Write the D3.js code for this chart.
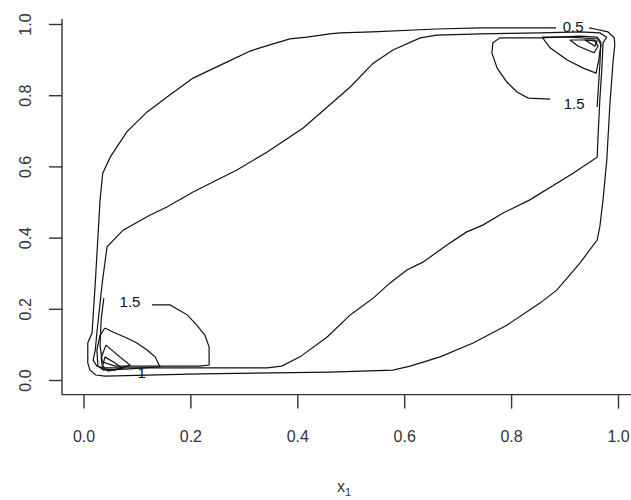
<!DOCTYPE html>
<html lang="en">
<head>
<meta charset="UTF-8">
<title>contour</title>
<script src="https://cdn.jsdelivr.net/npm/d3@7"></script>
<style>
  body { margin: 0; background: #fff; }
  text { font-family: "Liberation Sans", Arial, sans-serif; fill: #333; }
</style>
</head>
<body>
<svg width="631" height="500"></svg>
<script>
// ticks
var xTicks = [0, 0.2, 0.4, 0.6, 0.8, 1.0];
var yTicks = [0, 0.2, 0.4, 0.6, 0.8, 1.0];

// contour lines, [x1, x2]
// level 0.5 (outer loop, broken where its label sits)
var c05 = [[0.884,0.989],[0.742,0.989],[0.661,0.986],[0.540,0.978],[0.480,0.975],[0.461,0.972],
  [0.418,0.963],[0.386,0.958],[0.330,0.933],[0.312,0.924],[0.268,0.893],[0.205,0.848],[0.162,0.801],
  [0.119,0.753],[0.081,0.697],[0.050,0.626],[0.036,0.581],[0.031,0.506],[0.022,0.272],[0.016,0.132],
  [0.008,0.104],[0.008,0.048],[0.012,0.028],[0.023,0.014],[0.040,0.011],[0.218,0.017],[0.461,0.022],
  [0.579,0.028],[0.611,0.039],[0.667,0.065],[0.729,0.104],[0.792,0.154],[0.854,0.216],[0.886,0.253],
  [0.929,0.329],[0.961,0.393],[0.966,0.430],[0.972,0.506],[0.979,0.618],[0.985,0.778],[0.991,0.899],
  [0.994,0.941],[0.993,0.961],[0.981,0.978],[0.957,0.986],[0.946,0.989]];

// level 1 (S-shaped loop)
var c10 = [[0.979,0.963],[0.966,0.975],[0.929,0.978],[0.854,0.975],[0.742,0.972],[0.661,0.969],
  [0.630,0.961],[0.579,0.927],[0.542,0.890],[0.499,0.823],[0.411,0.708],[0.343,0.640],[0.287,0.590],
  [0.205,0.528],[0.156,0.486],[0.124,0.463],[0.074,0.421],[0.044,0.374],[0.035,0.272],[0.025,0.132],
  [0.022,0.084],[0.018,0.056],[0.025,0.039],[0.036,0.034],[0.343,0.034],[0.371,0.039],[0.405,0.065],
  [0.456,0.121],[0.499,0.183],[0.504,0.188],[0.542,0.230],[0.573,0.272],[0.605,0.309],[0.635,0.331],
  [0.680,0.379],[0.717,0.416],[0.747,0.435],[0.785,0.469],[0.835,0.506],[0.916,0.581],[0.961,0.626],
  [0.963,0.694],[0.966,0.787],[0.970,0.879],[0.972,0.947],[0.979,0.963]];

// level 1.5, lower left corner and upper right corner
var c15a = [[0.128,0.211],[0.162,0.211],[0.194,0.183],[0.212,0.154],[0.227,0.126],[0.235,0.093],
  [0.235,0.042],[0.218,0.039],[0.143,0.039],[0.059,0.039],[0.035,0.051],[0.031,0.098],[0.033,0.169],
  [0.038,0.230]];
var c15b = [[0.873,0.789],[0.832,0.792],[0.811,0.809],[0.792,0.837],[0.774,0.876],[0.764,0.919],
  [0.766,0.947],[0.779,0.961],[0.854,0.961],[0.929,0.966],[0.961,0.963],[0.968,0.949],[0.966,0.885],
  [0.963,0.815],[0.961,0.767]];

// level 2
var c20a = [[0.040,0.146],[0.055,0.135],[0.081,0.118],[0.100,0.104],[0.119,0.084],[0.134,0.065],
  [0.143,0.037],[0.087,0.031],[0.038,0.028],[0.027,0.039],[0.025,0.084],[0.031,0.126],[0.040,0.146]];
var c20b = [[0.858,0.963],[0.873,0.933],[0.905,0.899],[0.935,0.876],[0.959,0.862],[0.964,0.899],
  [0.968,0.941],[0.963,0.958],[0.910,0.963],[0.858,0.963]];

// level 2.5
var c25a = [[0.042,0.098],[0.053,0.084],[0.068,0.065],[0.087,0.042],[0.059,0.028],[0.036,0.031],
  [0.033,0.062],[0.042,0.098]];
var c25b = [[0.910,0.955],[0.925,0.938],[0.955,0.919],[0.963,0.938],[0.955,0.955],[0.910,0.955]];

// level 3
var c30a = [[0.040,0.065],[0.059,0.048],[0.072,0.034],[0.046,0.025],[0.036,0.039],[0.040,0.065]];
var c30b = [[0.938,0.955],[0.957,0.938],[0.961,0.952],[0.938,0.955]];

var lines = [c05, c10, c15a, c15b, c20a, c20b, c25a, c25b, c30a, c30b];

// contour labels
var labels = [
  {text: "0.5", x: 0.916, y: 0.992},
  {text: "1.5", x: 0.087, y: 0.219},
  {text: "1.5", x: 0.918, y: 0.775},
  {text: "1",   x: 0.109, y: 0.020}
];

var svg = d3.select('svg');

var x = d3.scaleLinear().domain([0, 1]).range([83.5, 618]);
var y = d3.scaleLinear().domain([0, 1]).range([380, 24]);

var left = 62, bottom = 394.6;

// L shaped frame
svg.append('path')
  .attr('d', 'M' + left + ',19 L' + left + ',' + bottom + ' L631,' + bottom)
  .attr('fill', 'none')
  .attr('stroke', '#333')
  .attr('stroke-width', 1.4);

// x axis
var xAxis = d3.axisBottom(x).tickValues(xTicks).tickSize(14).tickFormat(d3.format('.1f'));
var gx = svg.append('g').attr('transform', 'translate(0,' + bottom + ')').call(xAxis);
gx.select('.domain').remove();
gx.selectAll('line').attr('stroke', '#333').attr('stroke-width', 1.4);
gx.selectAll('text')
  .attr('y', 42).attr('dy', '0.35em')
  .style('font-size', '16px')
  .attr('fill', '#333')
  .attr('font-family', null);

// y axis
var yAxis = d3.axisLeft(y).tickValues(yTicks).tickSize(13).tickFormat(d3.format('.1f'));
var gy = svg.append('g').attr('transform', 'translate(' + left + ',0)').call(yAxis);
gy.select('.domain').remove();
gy.selectAll('line').attr('stroke', '#333').attr('stroke-width', 1.4);
gy.selectAll('text').remove();
gy.selectAll('.tick').append('text')
  .attr('transform', 'translate(-37,0) rotate(-90)')
  .attr('text-anchor', 'middle')
  .attr('dy', '0.35em')
  .style('font-size', '16px')
  .text(function(d) { return d3.format('.1f')(d); });

// x label with subscript
var xl = svg.append('text')
  .attr('x', 344).attr('y', 492)
  .attr('text-anchor', 'middle')
  .style('font-size', '16px');
xl.append('tspan').text('x');
xl.append('tspan').attr('dy', 4).style('font-size', '11px').text('1');

// contours
var line = d3.line()
  .x(function(d) { return x(d[0]); })
  .y(function(d) { return y(d[1]); });

svg.append('g').selectAll('path')
  .data(lines)
  .enter()
  .append('path')
  .attr('d', line)
  .attr('fill', 'none')
  .attr('stroke', '#111')
  .attr('stroke-width', 1.2);

svg.append('g').selectAll('text')
  .data(labels)
  .enter()
  .append('text')
  .attr('x', function(d) { return x(d.x); })
  .attr('y', function(d) { return y(d.y); })
  .attr('text-anchor', 'middle')
  .attr('dy', '0.35em')
  .style('font-size', '15px')
  .style('fill', '#111')
  .text(function(d) { return d.text; });
</script>
</body>
</html>
